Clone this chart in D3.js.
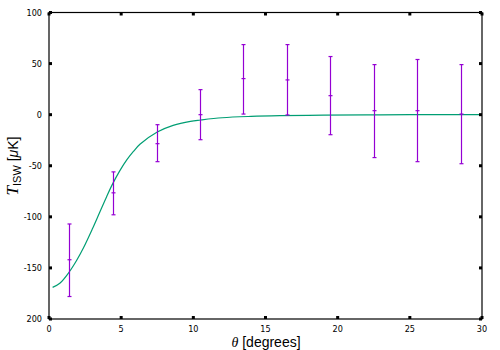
<!DOCTYPE html>
<html><head><meta charset="utf-8">
<script src="https://cdn.jsdelivr.net/npm/d3@7"></script>
<style>body{margin:0;background:#fff}svg{display:block}</style>
</head><body>
<svg id="c" width="500" height="350"></svg>
<script>
// data points with error bars
const theta = [1.4, 4.45, 7.45, 10.45, 13.45, 16.5, 19.5, 22.55, 25.5, 28.55];
const tIsw  = [-142, -76.5, -28.4, 0, 35.3, 34, 18.6, 3.9, 3.9, 0.6];
const errHi = [-107, -56, -9.8, 24.5, 68.6, 68.6, 56.9, 49, 54, 49];
const errLo = [-178, -98, -46, -24.5, 0.6, -0.3, -19.6, -42, -46, -48];
// model curve
const curveTheta = [0.25, 0.75, 1.4, 1.9, 2.4, 3.0, 3.5, 4.0, 4.4, 4.9, 5.4, 5.85, 6.3, 7.5, 8.6, 9.8, 10.5, 12, 14, 16, 19, 22, 25, 30];
const curveT     = [-169, -165, -154, -143, -130, -112, -96, -80, -68, -55, -44, -36, -29, -17, -10.5, -6.5, -5.2, -3, -1.7, -1, -0.5, -0.2, 0, 0];
// ticks
const xTicks = [0, 5, 10, 15, 20, 25, 30];
const xTickLabels = ["0", "5", "10", "15", "20", "25", "30"];
const yTicks = [100, 50, 0, -50, -100, -150, -200];
const yTickLabels = ["100", "50", "0", "-50", "-100", "-150", "200"];

const L = 49, R = 482, T = 12.5, B = 319;
const svg = d3.select("#c");
const x = d3.scaleLinear().domain([0, 30]).range([L, R]);
const y = d3.scaleLinear().domain([-200, 100]).range([B, T]);

// curve
const line = d3.line().x((d,i)=>x(curveTheta[i])).y((d,i)=>y(curveT[i])).curve(d3.curveCatmullRom);
svg.append("path").datum(curveT).attr("d", line).attr("fill","none")
  .attr("stroke","#009e73").attr("stroke-width",1.2);

// error bars
const col = "#9400d3";
const g = svg.append("g").attr("stroke", col).attr("stroke-width", 1.2);
theta.forEach((t,i)=>{
  const cx = Math.round(x(t)) + 0.5;
  g.append("line").attr("x1",cx).attr("x2",cx).attr("y1",y(errHi[i])).attr("y2",y(errLo[i]));
  [errHi[i], errLo[i], tIsw[i]].forEach(v=>{
    g.append("line").attr("x1",cx-2).attr("x2",cx+2).attr("y1",y(v)).attr("y2",y(v));
  });
});

// frame
svg.append("rect").attr("x",L).attr("y",T).attr("width",R-L).attr("height",B-T)
  .attr("fill","none").attr("stroke","#000").attr("stroke-width",1.2);

// tick squares
const tk = svg.append("g").attr("fill","#000");
xTicks.forEach(v=>{
  tk.append("rect").attr("x",x(v)-1.5).attr("y",B-3).attr("width",3).attr("height",3);
  tk.append("rect").attr("x",x(v)-1.5).attr("y",T).attr("width",3).attr("height",3);
});
yTicks.forEach(v=>{
  tk.append("rect").attr("x",L).attr("y",y(v)-1.5).attr("width",3).attr("height",3);
  tk.append("rect").attr("x",R-3).attr("y",y(v)-1.5).attr("width",3).attr("height",3);
});

// tick labels
const lf = "'DejaVu Sans Condensed', 'Liberation Sans Narrow', sans-serif";
svg.append("g").selectAll("text").data(xTicks).join("text")
  .attr("x",d=>x(d)).attr("y",332).attr("text-anchor","middle")
  .attr("font-family",lf).attr("font-size",9).text((d,i)=>xTickLabels[i]);
svg.append("g").selectAll("text").data(yTicks).join("text")
  .attr("x",42).attr("y",d=>y(d)+3).attr("text-anchor","end")
  .attr("font-family",lf).attr("font-size",9).text((d,i)=>yTickLabels[i]);

// axis titles
svg.append("text").attr("x",266).attr("y",347).attr("text-anchor","middle")
  .attr("font-family","'Liberation Sans', sans-serif").attr("font-size",14)
  .html('<tspan font-style="italic" font-family="\'Liberation Serif\', serif">θ</tspan> [degrees]');
const yl = svg.append("text").attr("transform","translate(18,166) rotate(-90)")
  .attr("text-anchor","middle").attr("font-family","'Liberation Sans', sans-serif").attr("font-size",14);
yl.append("tspan").attr("font-style","italic").attr("font-family","'Liberation Serif', serif").attr("font-size",17).text("T");
yl.append("tspan").attr("font-size",11).attr("dy",3).text("ISW");
yl.append("tspan").attr("dy",-3).text(" [");
yl.append("tspan").attr("font-style","italic").text("μ");
yl.append("tspan").text("K]");
</script>
</body></html>
